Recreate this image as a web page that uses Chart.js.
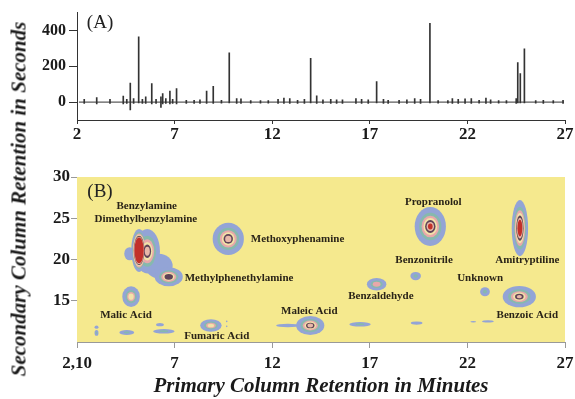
<!DOCTYPE html>
<html><head><meta charset="utf-8">
<script src="https://cdn.jsdelivr.net/npm/chart.js@4.4.0/dist/chart.umd.min.js"></script>
<style>
html,body{margin:0;padding:0;background:#fff;width:575px;height:399px;overflow:hidden}
#top{position:absolute;left:0;top:0;width:575px;height:150px}
#bot{position:absolute;left:0;top:150px;width:575px;height:249px}
#ytitle{position:absolute;left:19px;top:199px;transform:translate(-50%,-50%) rotate(-90deg);font:italic bold 21px 'Liberation Serif',serif;white-space:nowrap;color:#1a1a1a}
</style></head><body>
<div id="top"><canvas id="c1"></canvas></div>
<div id="bot"><canvas id="c2"></canvas></div>
<div id="ytitle">Secondary Column Retention in Seconds</div>
<script>
// ---- data ----
const xTickValues = [2, 7, 12, 17, 22, 27];
const topYTickValues = [0, 200, 400];
const botYTickValues = [15, 20, 25, 30];

// panel A: chromatogram spikes (time in min, low, high)
const spikeTimes = [2.37,3.01,3.69,4.37,4.55,4.73,4.9,5.16,5.35,5.52,5.83,6.05,6.3,6.39,6.55,6.76,6.9,7.1,7.6,8.0,8.3,8.64,8.98,9.4,9.8,10.18,10.4,10.9,11.4,11.8,12.3,12.6,12.9,13.3,13.65,13.97,14.28,14.6,15.0,15.3,15.6,16.29,16.58,16.92,17.35,17.7,17.94,18.5,18.9,19.3,19.6,20.08,20.5,21.0,21.23,21.53,21.88,22.2,22.6,22.95,23.19,23.6,24.0,24.5,24.58,24.71,24.92,25.5,25.89,26.4,26.9];
const spikeHighs = [15,25,15,33,15,106,20,365,15,30,104,15,30,48,20,62,15,76,10,10,12,62,88,10,275,20,18,8,8,8,15,22,20,10,15,245,35,12,15,12,12,20,15,12,115,15,10,10,12,20,15,440,8,8,20,15,18,20,10,22,12,8,8,20,221,160,298,8,10,8,10];
const spikeLows = [-8,-10,-8,-10,-8,-44,-8,-5,-8,-8,-10,-8,-30,-10,-8,-10,-8,-10,-8,-8,-8,-8,-8,-6,-5,-8,-8,-6,-6,-6,-8,-8,-8,-8,-8,-5,-8,-8,-8,-8,-8,-8,-8,-8,-5,-8,-8,-8,-8,-8,-8,-5,-6,-6,-8,-8,-8,-8,-6,-8,-8,-6,-6,-8,-5,-5,-5,-6,-8,-6,-8];
const baselineX = [2.1, 26.95];
const baselineY = [0, 0];

// panel B: contour peaks
const peakX  = [6.2,4.7,5.6,5.18,6.7,9.75,4.77,3.0,3.0,4.55,6.25,6.45,8.86,9.67,9.67,12.8,13.95,16.5,17.35,19.35,19.4,20.1,22.9,22.3,23.05,24.69,24.66];
const peakY  = [19.2,20.7,21.0,21.1,17.9,22.5,15.5,11.8,11.1,11.15,12.1,11.3,12.0,12.5,11.9,12.0,12.0,12.15,17.0,18.0,12.3,24.0,16.1,12.45,12.5,23.8,15.5];
const peakRx = [0.7,0.28,0.65,0.4,0.72,0.8,0.45,0.1,0.1,0.38,0.2,0.55,0.55,0.04,0.04,0.6,0.72,0.55,0.5,0.27,0.3,0.8,0.25,0.15,0.3,0.42,0.85];
const peakRy = [1.5,0.8,2.7,2.6,1.15,1.95,1.25,0.2,0.35,0.3,0.2,0.28,0.75,0.1,0.1,0.2,1.15,0.28,0.75,0.5,0.2,2.35,0.55,0.1,0.15,3.4,1.3];
const peakLevels = [1,1,6,7,5,6,4,1,2,2,1,2,4,1,1,1,6,2,3,2,1,7,2,1,1,7,6];
const peakCore = [1,1,0.2,0.6,0.3,0.2,0.3,1,0.4,0.4,1,0.4,0.3,1,1,1,0.2,0.4,0.4,0.4,1,0.15,0.4,1,1,0.3,0.15];
const ringColors = ['#93a4d6','#86b9ad','#e8a8aa','#f2e3a8','#5f4458','#e8b8a8','#c2312a'];

const compoundNames = ['Benzylamine','Dimethylbenzylamine','Methoxyphenamine','Methylphenethylamine','Malic Acid','Fumaric Acid','Maleic Acid','Benzaldehyde','Propranolol','Benzonitrile','Amitryptiline','Unknown','Benzoic Acid'];
const compoundX = [5.57,5.53,13.3,10.3,4.51,9.16,13.9,17.57,20.25,19.78,25.07,22.65,25.07];
const compoundY = [26.5,24.9,22.5,17.7,13.2,10.65,13.7,15.5,26.9,19.9,19.9,17.7,13.2];

const serif = "'Liberation Serif', 'Times New Roman', serif";
const tickFont = {family: serif, size: 17, weight: 'bold'};

function fixTicks(vals){ return function(scale){ scale.ticks = vals.map(v => ({value: v})); }; }

// ---- panel A ----
const panelLabelA = {
  id: 'panelLabelA',
  afterDraw(chart){
    const {ctx, scales:{x, y}} = chart;
    ctx.save();
    ctx.font = '19px ' + serif; ctx.fillStyle = '#222';
    ctx.textAlign = 'center'; ctx.textBaseline = 'middle';
    ctx.fillText('(A)', x.getPixelForValue(3.18), y.getPixelForValue(440));
    ctx.restore();
  }
};

new Chart(document.getElementById('c1'), {
  type: 'bar',
  data: {
    datasets: [
      { type: 'bar', data: spikeTimes.map((t, i) => ({x: t, y: [spikeLows[i], spikeHighs[i]]})),
        backgroundColor: '#333', barThickness: 1, borderWidth: 0 },
      { type: 'line', data: baselineX.map((t, i) => ({x: t, y: baselineY[i]})),
        borderColor: '#333', borderWidth: 1, pointRadius: 0 }
    ]
  },
  options: {
    responsive: true, maintainAspectRatio: false, animation: false,
    layout: {padding: {top: 12, right: 10, left: 0, bottom: 0}},
    plugins: {legend: {display: false}, tooltip: {enabled: false}},
    scales: {
      x: { type: 'linear', min: 2, max: 27, offset: false,
        afterBuildTicks: fixTicks(xTickValues),
        afterFit(s){ s.height = 30; s.paddingLeft = 0; s.paddingRight = 0; },
        grid: {offset: false, drawOnChartArea: false, drawTicks: true, tickLength: 4, color: '#333'},
        border: {display: true, color: '#333', width: 1},
        ticks: {font: tickFont, color: '#1a1a1a', padding: 0, maxRotation: 0}
      },
      y: { min: -100, max: 500,
        afterBuildTicks: fixTicks(topYTickValues),
        afterFit(s){ s.width = 77; },
        grid: {drawOnChartArea: false, drawTicks: true, tickLength: 8, color: '#333'},
        border: {display: true, color: '#333', width: 1},
        ticks: {font: {family: serif, size: 16, weight: 'bold'}, color: '#1a1a1a', padding: 3}
      }
    }
  },
  plugins: [panelLabelA]
});

// ---- panel B ----
const contourPlugin = {
  id: 'contour',
  beforeDatasetsDraw(chart){
    const {ctx, chartArea, scales:{x, y}} = chart;
    ctx.save();
    ctx.fillStyle = '#f5e98e';
    ctx.fillRect(chartArea.left, chartArea.top, chartArea.right - chartArea.left, chartArea.bottom - chartArea.top);
    ctx.beginPath();
    ctx.rect(chartArea.left, chartArea.top, chartArea.right - chartArea.left, chartArea.bottom - chartArea.top);
    ctx.clip();
    const meta = chart.getDatasetMeta(0);
    const maxLev = Math.max(...peakLevels);
    for (let k = 0; k < maxLev; k++) {
      for (let i = 0; i < peakX.length; i++) {
        const n = peakLevels[i];
        if (k >= n) continue;
        const f = n > 1 ? 1 - (1 - peakCore[i]) * Math.pow(k / (n - 1), 0.6) : 1;
        const el = meta.data[i];
        const rxp = Math.abs(x.getPixelForValue(peakX[i] + peakRx[i] * f) - el.x);
        const ryp = Math.abs(y.getPixelForValue(peakY[i] + peakRy[i] * f) - el.y);
        ctx.beginPath();
        ctx.ellipse(el.x, el.y, Math.max(rxp, 0.6), Math.max(ryp, 0.6), 0, 0, Math.PI * 2);
        ctx.fillStyle = ringColors[k];
        ctx.fill();
      }
    }
    ctx.restore();
  },
  afterDatasetsDraw(chart){
    const {ctx, scales:{x, y}} = chart;
    ctx.save();
    ctx.fillStyle = '#2a2418';
    ctx.textAlign = 'center'; ctx.textBaseline = 'middle';
    ctx.font = 'bold 11px ' + serif;
    compoundNames.forEach((n, i) => {
      ctx.fillText(n, x.getPixelForValue(compoundX[i]), y.getPixelForValue(compoundY[i]));
    });
    ctx.font = '19px ' + serif; ctx.fillStyle = '#222';
    ctx.fillText('(B)', x.getPixelForValue(3.18), y.getPixelForValue(28.2));
    ctx.restore();
  }
};

new Chart(document.getElementById('c2'), {
  type: 'scatter',
  data: {
    datasets: [{ data: peakX.map((v, i) => ({x: v, y: peakY[i]})), pointRadius: 0, pointHoverRadius: 0 }]
  },
  options: {
    responsive: true, maintainAspectRatio: false, animation: false,
    layout: {padding: {top: 27, right: 10, left: 0, bottom: 0}},
    plugins: {legend: {display: false}, tooltip: {enabled: false}},
    scales: {
      x: { type: 'linear', min: 2, max: 27,
        afterBuildTicks: fixTicks(xTickValues),
        afterFit(s){ s.height = 57; s.paddingLeft = 0; s.paddingRight = 0; },
        grid: {drawOnChartArea: false, drawTicks: true, tickLength: 6, color: '#999'},
        border: {display: true, color: '#999', width: 1},
        ticks: {font: tickFont, color: '#1a1a1a', padding: 5, maxRotation: 0,
          callback: v => v === 2 ? '2,10' : String(v)},
        title: {display: true, text: 'Primary Column Retention in Minutes',
          font: {family: serif, size: 21, weight: 'bold', style: 'italic'}, color: '#1a1a1a', padding: {top: 0, bottom: 0}}
      },
      y: { min: 10, max: 30,
        afterBuildTicks: fixTicks(botYTickValues),
        afterFit(s){ s.width = 77; },
        grid: {drawOnChartArea: false, drawTicks: true, tickLength: 6, color: '#999'},
        border: {display: true, color: '#999', width: 1},
        ticks: {font: tickFont, color: '#1a1a1a', padding: 1}
      }
    }
  },
  plugins: [contourPlugin]
});
</script>
</body></html>
